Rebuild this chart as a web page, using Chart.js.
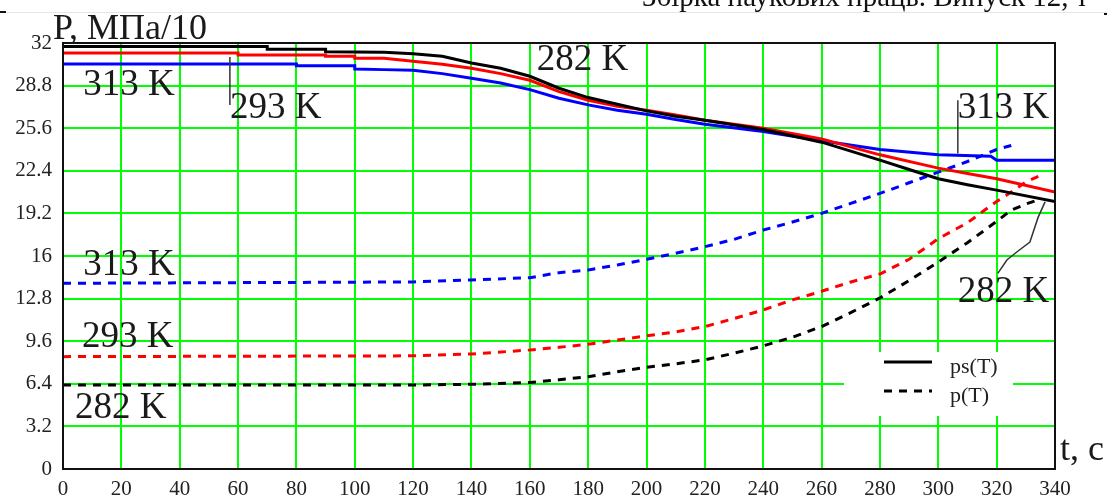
<!DOCTYPE html>
<html>
<head>
<meta charset="utf-8">
<script src="https://cdn.jsdelivr.net/npm/chart.js@4"></script>
<style>
html, body { margin: 0; padding: 0; background: #fff; }
#wrap { width: 1107px; height: 498px; }
</style>
</head>
<body>
<div id="wrap"><canvas id="myChart" width="1107" height="498"></canvas></div>
<script>
// tick labels
var tTicks = [0, 20, 40, 60, 80, 100, 120, 140, 160, 180, 200, 220, 240, 260, 280, 300, 320, 340];
var pTicks = [0, 3.2, 6.4, 9.6, 12.8, 16, 19.2, 22.4, 25.6, 28.8, 32];
var pTickLabels = ["0", "3.2", "6.4", "9.6", "12.8", "16", "19.2", "22.4", "25.6", "28.8", "32"];

// ps(T), 282 K
var tPs282 = [0, 70, 70, 90, 90, 110, 120, 130, 140, 150, 160, 170, 180, 190, 200, 210, 220, 240, 260, 280, 290, 300, 310, 320, 340];
var pPs282 = [31.74, 31.74, 31.53, 31.53, 31.35, 31.3, 31.2, 31.0, 30.5, 30.1, 29.5, 28.6, 27.9, 27.4, 26.9, 26.5, 26.2, 25.5, 24.55, 23.2, 22.5, 21.8, 21.35, 20.95, 20.1];
// ps(T), 293 K
var tPs293 = [0, 60, 60, 90, 90, 100, 100, 110, 130, 140, 150, 160, 170, 180, 190, 200, 210, 220, 240, 260, 280, 300, 310, 320, 340];
var pPs293 = [31.25, 31.25, 31.1, 31.1, 31.0, 31.0, 30.85, 30.85, 30.4, 30.1, 29.7, 29.2, 28.35, 27.7, 27.25, 26.95, 26.6, 26.2, 25.6, 24.8, 23.6, 22.6, 22.2, 21.8, 20.8];
// ps(T), 313 K
var tPs313 = [0, 80, 80, 100, 100, 110, 120, 130, 140, 150, 160, 170, 180, 190, 200, 210, 220, 240, 260, 280, 300, 318, 320, 340];
var pPs313 = [30.43, 30.43, 30.3, 30.3, 30.05, 30.0, 29.95, 29.7, 29.35, 29.0, 28.5, 27.85, 27.35, 26.95, 26.65, 26.25, 25.9, 25.35, 24.65, 24.0, 23.6, 23.5, 23.2, 23.2];

// p(T), 282 K
var tP282 = [0, 120, 140, 160, 170, 180, 190, 200, 210, 220, 230, 240, 250, 260, 270, 280, 290, 300, 310, 320, 325, 330, 334];
var pP282 = [6.31, 6.31, 6.36, 6.5, 6.7, 6.93, 7.31, 7.64, 7.9, 8.2, 8.7, 9.25, 9.9, 10.7, 11.75, 12.85, 14.15, 15.55, 17.0, 18.6, 19.45, 19.9, 20.2];
// p(T), 293 K
var tP293 = [0, 120, 140, 160, 170, 180, 190, 200, 210, 220, 230, 240, 250, 260, 270, 280, 290, 300, 310, 320, 325, 330, 336];
var pP293 = [8.44, 8.5, 8.64, 8.94, 9.14, 9.37, 9.69, 10.0, 10.3, 10.7, 11.3, 11.95, 12.7, 13.35, 14.05, 14.65, 15.75, 17.3, 18.5, 20.1, 20.8, 21.55, 22.15];
// p(T), 313 K
var tP313 = [0, 120, 140, 160, 170, 180, 190, 200, 210, 220, 230, 240, 250, 260, 270, 280, 290, 300, 310, 320, 325];
var pP313 = [13.95, 14.05, 14.2, 14.37, 14.75, 14.95, 15.33, 15.75, 16.2, 16.7, 17.25, 17.95, 18.55, 19.2, 19.95, 20.7, 21.5, 22.3, 23.1, 24.0, 24.3];

// temperature labels (text, t, p) and their leader lines
var tempLabels = [
  ["313 K", 6.9, 28.1],
  ["293 K", 57.2, 26.4],
  ["282 K", 162.4, 30.0],
  ["313 K", 306.7, 26.4],
  ["282 K", 306.7, 12.55],
  ["313 K", 6.9, 14.6],
  ["293 K", 6.5, 9.17],
  ["282 K", 4.1, 3.83]
];
var leaders = [
  [[57.2, 30.95], [57.2, 27.35]],
  [[306.7, 27.7], [306.7, 23.7]],
  [[336.6, 20.07], [334.2, 18.9], [331.4, 17.05], [326.9, 16.3], [323.5, 15.7], [320.4, 14.7]]
];

function pts(ts, ps) {
  return ts.map(function (t, i) { return {x: t, y: ps[i]}; });
}

function line(ts, ps, color, dashed) {
  return {
    data: pts(ts, ps),
    borderColor: color,
    borderWidth: 3,
    borderDash: dashed ? [8, 7] : [],
    borderCapStyle: "butt",
    pointRadius: 0,
    fill: false,
    tension: 0
  };
}

var serif = "'Liberation Serif', 'DejaVu Serif', serif";

var decor = {
  id: "decor",
  beforeDatasetsDraw: function (chart) {
    var ctx = chart.ctx;
    ctx.save();
    ctx.fillStyle = "#fff";
    ctx.fillRect(844, 352, 169, 64);
    ctx.restore();
  },
  afterDraw: function (chart) {
    var ctx = chart.ctx, a = chart.chartArea;
    var xs = chart.scales.x, ys = chart.scales.y;
    ctx.save();

    // frame
    ctx.strokeStyle = "#111";
    ctx.lineWidth = 2;
    ctx.strokeRect(a.left, a.top, a.right - a.left, a.bottom - a.top);

    // page header remains
    ctx.strokeStyle = "#e6e6e6";
    ctx.lineWidth = 1;
    ctx.beginPath(); ctx.moveTo(0, 12.5); ctx.lineTo(1107, 12.5); ctx.stroke();
    ctx.fillStyle = "#111";
    ctx.fillRect(0, 11, 6, 2);
    ctx.fillRect(1104, 13, 3, 2);
    ctx.font = "29px " + serif;
    ctx.textBaseline = "alphabetic";
    ctx.textAlign = "left";
    ctx.fillText("Збірка наукових праць. Випуск 12, т", 642, 6);

    // axis titles
    ctx.fillStyle = "#1a1a1a";
    ctx.font = "36px " + serif;
    ctx.fillText("P, МПа/10", 53, 39);
    ctx.fillText("t, с", 1060, 460);

    // temperature labels
    ctx.font = "37px " + serif;
    tempLabels.forEach(function (l) {
      ctx.fillText(l[0], xs.getPixelForValue(l[1]), ys.getPixelForValue(l[2]));
    });
    ctx.strokeStyle = "#333";
    ctx.lineWidth = 1.5;
    leaders.forEach(function (seg) {
      ctx.beginPath();
      seg.forEach(function (p, i) {
        var px = xs.getPixelForValue(p[0]), py = ys.getPixelForValue(p[1]);
        if (i === 0) ctx.moveTo(px, py); else ctx.lineTo(px, py);
      });
      ctx.stroke();
    });

    // legend
    ctx.strokeStyle = "#000";
    ctx.lineWidth = 3;
    ctx.beginPath(); ctx.moveTo(884, 362); ctx.lineTo(932, 362); ctx.stroke();
    ctx.setLineDash([8, 7]);
    ctx.beginPath(); ctx.moveTo(884, 391); ctx.lineTo(932, 391); ctx.stroke();
    ctx.setLineDash([]);
    ctx.font = "22px " + serif;
    ctx.fillStyle = "#222";
    ctx.fillText("ps(T)", 950, 373);
    ctx.fillText("p(T)", 950, 402);

    ctx.restore();
  }
};

new Chart("myChart", {
  type: "line",
  data: {
    datasets: [
      line(tPs282, pPs282, "#000000", false),
      line(tPs293, pPs293, "#ff0000", false),
      line(tPs313, pPs313, "#0000ff", false),
      line(tP282, pP282, "#000000", true),
      line(tP293, pP293, "#ff0000", true),
      line(tP313, pP313, "#0000ff", true)
    ]
  },
  options: {
    responsive: false,
    animation: false,
    devicePixelRatio: 1,
    layout: {padding: {left: 0, top: 43, right: 52, bottom: 0}},
    plugins: {legend: {display: false}, tooltip: {enabled: false}},
    scales: {
      x: {
        type: "linear",
        min: 0,
        max: 340,
        afterBuildTicks: function (s) { s.ticks = tTicks.map(function (v) { return {value: v}; }); },
        afterFit: function (s) { s.height = 29; },
        grid: {color: "#00ff00", lineWidth: 2, drawTicks: false},
        border: {color: "#111", width: 2},
        ticks: {
          color: "#222",
          padding: 8,
          maxRotation: 0,
          autoSkip: false,
          font: {family: serif, size: 21},
          callback: function (v) { return String(v); }
        }
      },
      y: {
        type: "linear",
        min: 0,
        max: 32,
        afterBuildTicks: function (s) { s.ticks = pTicks.map(function (v) { return {value: v}; }); },
        afterFit: function (s) { s.width = 63; },
        grid: {color: "#00ff00", lineWidth: 2, drawTicks: false},
        border: {color: "#111", width: 2},
        ticks: {
          color: "#222",
          padding: 11,
          autoSkip: false,
          font: {family: serif, size: 21},
          callback: function (v, i) { return pTickLabels[i]; }
        }
      }
    }
  },
  plugins: [decor]
});
</script>
</body>
</html>
